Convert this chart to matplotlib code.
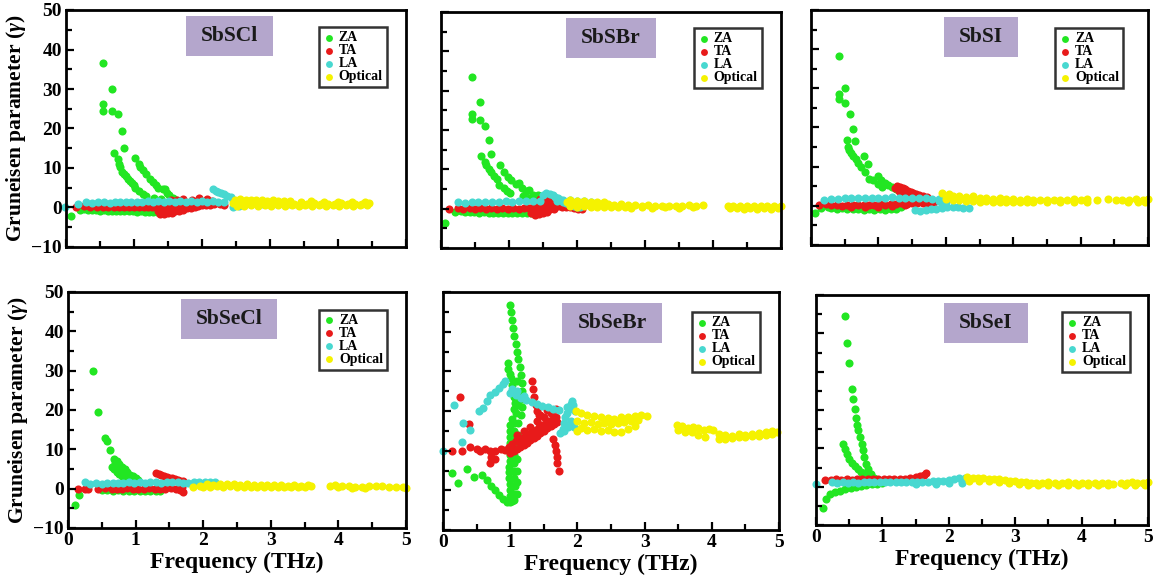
import matplotlib
matplotlib.use('Agg')
import matplotlib.pyplot as plt
import numpy as np
from matplotlib.ticker import MultipleLocator
from matplotlib.patches import Rectangle

plt.rcParams['font.family'] = 'Liberation Serif'
plt.rcParams['font.weight'] = 'bold'
plt.rcParams['axes.labelweight'] = 'bold'
plt.rcParams['mathtext.fontset'] = 'custom'
plt.rcParams['mathtext.it'] = 'Liberation Serif:italic:bold'
plt.rcParams['mathtext.rm'] = 'Liberation Serif:bold'

# (frequency THz, gruneisen parameter)
# ---- SbSCl
scl_za = np.array([
    [0.07, -2.1], [0.2, -0.6], [0.27, -0.3],
    [0.54, 36.7], [0.54, 26.2], [0.54, 24.5], [0.67, 30.0], [0.67, 24.5], [0.76, 23.6], [0.82, 19.4], [0.86, 15.0],
    [0.71, 13.7], [0.76, 12.2], [0.78, 11.0], [0.80, 10.2], [0.82, 9.1], [0.85, 8.6], [0.88, 8.0], [0.91, 7.2],
    [0.94, 6.8], [0.97, 6.2], [1.0, 5.6], [1.02, 4.9], [1.07, 4.3], [1.13, 3.4], [1.18, 2.9],
    [1.01, 12.6], [1.07, 10.9], [1.09, 10.2], [1.13, 9.5], [1.18, 8.6], [1.24, 7.2], [1.28, 6.5], [1.32, 5.6],
    [1.36, 4.9], [1.42, 4.6], [1.46, 4.8], [1.48, 3.7], [1.52, 3.2], [1.58, 2.4], [1.62, 1.9], [1.3, 2.5], [1.4, 2.2],
    [0.32, -0.6], [0.38, -0.7], [0.44, -0.6], [0.5, -0.8], [0.56, -0.7], [0.62, -0.8], [0.68, -0.9], [0.74, -0.8],
    [0.8, -0.9], [0.86, -1.0], [0.92, -0.9], [0.98, -1.0], [1.04, -1.1], [1.1, -1.0], [1.16, -1.1], [1.22, -1.1],
    [1.28, -1.2], [1.34, -1.1], [1.4, -1.2], [1.46, -1.0]])
scl_ta = np.array([
    [0.15, 0.1], [0.27, 0.3], [0.35, 0.0], [0.45, 0.2], [0.55, 0.1], [0.62, 0.2], [0.7, 0.0], [0.78, 0.1],
    [0.85, 0.2], [0.92, 0.0], [1.0, 0.1], [1.07, 0.2], [1.14, 0.0], [1.2, 0.1], [1.27, 0.2], [1.33, 0.0],
    [1.38, -1.6], [1.44, -1.7], [1.5, -1.5], [1.56, -1.4],
    [1.36, -1.0], [1.42, -1.1], [1.48, -0.9], [1.54, -1.0], [1.6, -0.9], [1.66, -0.8], [1.72, -0.7],
    [1.36, -0.4], [1.42, -0.5], [1.48, -0.4], [1.54, -0.3], [1.6, -0.4], [1.66, -0.3], [1.72, -0.2], [1.78, -0.2],
    [1.84, -0.1], [1.9, 0.0],
    [1.4, 0.3], [1.46, 0.2], [1.52, 0.3], [1.58, 0.4], [1.64, 0.3], [1.7, 0.5], [1.76, 0.4], [1.82, 0.5],
    [1.88, 0.6], [1.94, 0.5], [2.0, 0.6], [2.06, 0.7], [2.12, 0.6],
    [1.55, 0.9], [1.62, 1.0], [1.7, 1.1], [1.78, 1.0], [1.86, 1.2], [1.94, 1.1], [2.02, 1.3], [2.1, 1.2],
    [2.18, 1.0], [2.26, 0.8], [2.33, 0.6],
    [1.55, 2.0], [1.63, 1.8], [1.72, 2.1], [1.86, 2.0], [1.95, 2.3], [2.08, 2.2], [2.15, 1.7]])
scl_la = np.array([
    [-0.02, 0.0], [0.18, 1.0], [0.3, 1.3], [0.38, 1.1], [0.47, 1.3], [0.56, 1.4], [0.64, 1.2], [0.72, 1.4],
    [0.8, 1.3], [0.88, 1.5], [0.96, 1.4], [1.04, 1.5], [1.12, 1.4], [1.2, 1.6], [1.28, 1.5], [1.36, 1.6],
    [1.44, 1.5], [1.52, 1.6], [1.6, 1.5], [1.68, 1.6], [1.76, 1.5], [1.84, 1.6], [1.92, 1.5], [2.0, 1.6],
    [2.08, 1.5], [2.16, 1.6], [2.24, 1.5], [2.32, 1.4],
    [2.16, 4.6], [2.2, 4.2], [2.24, 3.9], [2.28, 3.6], [2.32, 3.3], [2.37, 3.0], [2.42, 2.6], [2.46, 2.0],
    [2.48, 1.3], [2.5, 0.7], [2.46, 0.2], [2.55, 0.4], [2.7, 0.9], [2.9, 1.0], [3.1, 0.8], [3.3, 0.9]])
scl_opt = np.array([
    [2.48, 2.0], [2.56, 2.1], [2.64, 1.9], [2.72, 2.0], [2.8, 1.8], [2.88, 1.9], [2.96, 1.7], [3.04, 1.8],
    [3.12, 1.6], [3.2, 1.7], [3.3, 1.6], [3.45, 1.5], [3.6, 1.6], [3.8, 1.5], [4.0, 1.4], [4.2, 1.5], [4.4, 1.4],
    [2.45, 1.2], [2.55, 1.3], [2.65, 1.2], [2.75, 1.3], [2.85, 1.1], [2.95, 1.2], [3.05, 1.1], [3.15, 1.2],
    [3.25, 1.1], [3.35, 1.0], [3.45, 1.1], [3.55, 1.0], [3.65, 1.1], [3.75, 1.0], [3.85, 0.9], [3.95, 1.0],
    [4.05, 1.1], [4.15, 1.0], [4.25, 0.9], [4.35, 1.0], [4.45, 1.1],
    [2.52, 0.5], [2.62, 0.4], [2.72, 0.6], [2.82, 0.5], [2.92, 0.6], [3.02, 0.5], [3.12, 0.6], [3.22, 0.5],
    [3.32, 0.6], [3.42, 0.5], [3.52, 0.6], [3.62, 0.5], [3.72, 0.6], [3.82, 0.5], [3.92, 0.6], [4.02, 0.5],
    [4.12, 0.6], [4.22, 0.5], [4.32, 0.6], [4.42, 0.7]])

# ---- SbSBr
sbr_za = np.array([
    [0.06, -3.6], [0.2, -0.8], [0.3, -0.5],
    [0.45, 33.4], [0.57, 27.0], [0.45, 24.0], [0.45, 22.8], [0.57, 22.5], [0.65, 21.0], [0.71, 17.4], [0.73, 13.9],
    [0.59, 13.3], [0.64, 11.8], [0.66, 11.0], [0.7, 10.0], [0.74, 9.2], [0.78, 8.4], [0.82, 7.6], [0.86, 5.9],
    [0.92, 5.2], [0.97, 4.4], [1.02, 4.0],
    [0.87, 11.0], [0.93, 9.3], [0.98, 8.0], [1.03, 7.2], [1.1, 6.3], [1.14, 6.6], [1.19, 5.3], [1.25, 4.4],
    [1.3, 4.7], [1.36, 3.6], [1.42, 3.4], [1.47, 2.8], [1.52, 2.3], [1.2, 3.2], [1.3, 2.6],
    [0.35, -0.8], [0.42, -0.9], [0.49, -0.8], [0.56, -1.0], [0.63, -0.9], [0.7, -1.0], [0.77, -1.1], [0.84, -1.0],
    [0.91, -1.1], [0.98, -1.0], [1.05, -1.1], [1.12, -1.2], [1.19, -1.1], [1.26, -1.2], [1.32, -1.1]])
sbr_ta = np.array([
    [0.12, 0.0], [0.25, 0.2], [0.32, -0.1], [0.42, 0.1], [0.5, 0.0], [0.58, 0.2], [0.66, 0.0], [0.74, 0.1],
    [0.82, 0.0], [0.9, 0.2], [0.98, 0.0], [1.06, 0.1], [1.14, 0.0], [1.22, 0.2], [1.3, 0.1],
    [1.32, -1.2], [1.38, -1.5], [1.44, -1.3], [1.5, -1.1], [1.56, -0.9], [1.36, -0.5], [1.42, -0.6], [1.48, -0.4],
    [1.54, -0.3], [1.6, -0.2], [1.66, -0.1], [1.36, 0.4], [1.42, 0.3], [1.48, 0.5], [1.54, 0.6], [1.6, 0.5],
    [1.66, 0.7], [1.72, 0.6], [1.78, 0.5], [1.84, 0.4], [1.9, 0.3], [1.96, 0.2], [2.02, 0.0], [2.08, -0.2],
    [1.4, 1.5], [1.45, 2.4], [1.5, 2.8], [1.55, 2.5], [1.6, 2.0], [1.65, 1.6], [1.7, 1.2], [1.75, 1.0]])
sbr_la = np.array([
    [0.25, 1.6], [0.35, 1.5], [0.45, 1.7], [0.55, 1.6], [0.65, 1.8], [0.75, 1.7], [0.85, 1.8], [0.95, 1.9],
    [1.05, 1.8], [1.15, 1.9], [1.25, 2.0], [1.35, 1.9], [1.45, 2.0],
    [1.5, 3.5], [1.55, 4.0], [1.6, 3.8], [1.64, 3.5], [1.68, 3.0], [1.72, 2.6], [1.76, 2.2], [1.8, 1.8],
    [1.84, 1.5], [1.88, 1.2], [1.92, 0.9], [1.96, 0.6], [2.0, 0.4], [2.04, 0.3],
    [1.7, 2.0], [1.8, 2.3], [1.9, 2.2], [2.0, 2.0], [2.1, 1.9], [2.2, 1.7]])
sbr_opt = np.array([
    [1.85, 1.6], [1.95, 1.3], [2.05, 1.4], [2.15, 1.2], [2.25, 1.3], [2.35, 1.1], [2.45, 1.2], [2.55, 1.0],
    [2.65, 1.1], [2.75, 0.9], [2.85, 1.0], [2.95, 0.8], [3.05, 0.9], [3.15, 0.8], [3.25, 0.7], [3.35, 0.8],
    [3.45, 0.7], [3.55, 0.8], [3.65, 0.9], [3.75, 0.8], [3.85, 0.9],
    [1.9, 0.6], [2.0, 0.5], [2.1, 0.6], [2.2, 0.4], [2.3, 0.5], [2.4, 0.4], [2.5, 0.3], [2.6, 0.4], [2.7, 0.3],
    [2.8, 0.2], [2.95, 0.3], [3.1, 0.2], [3.3, 0.3], [3.5, 0.2], [3.7, 0.3],
    [1.9, 2.2], [2.0, 2.0], [2.1, 1.9], [2.2, 1.8], [2.3, 1.7], [2.4, 1.6],
    [4.22, 0.8], [4.3, 0.7], [4.4, 0.8], [4.5, 0.7], [4.6, 0.6], [4.7, 0.7], [4.8, 0.6], [4.9, 0.7], [5.0, 0.6],
    [4.25, 0.1], [4.35, 0.2], [4.45, 0.0], [4.55, 0.1], [4.65, 0.0], [4.75, 0.1], [4.85, 0.0], [4.95, 0.1]])

# ---- SbSI
ssi_za = np.array([
    [0.06, -1.9], [0.15, -0.5], [0.25, -0.3],
    [0.42, 38.3], [0.5, 30.2], [0.41, 28.5], [0.41, 27.4], [0.51, 26.2], [0.58, 23.5], [0.63, 19.6], [0.53, 16.7],
    [0.66, 16.6], [0.55, 15.0], [0.57, 14.2], [0.6, 13.4], [0.63, 12.8], [0.67, 12.0], [0.7, 11.0], [0.74, 9.8],
    [0.79, 12.6], [0.84, 10.6], [0.8, 8.6], [0.86, 6.9], [0.92, 6.5], [0.99, 7.5], [1.04, 6.5], [1.1, 5.8],
    [1.14, 5.4], [1.2, 4.8], [1.26, 4.2], [1.34, 3.5], [1.38, 2.6], [1.0, 5.6], [1.06, 4.8],
    [0.3, -0.5], [0.38, -0.7], [0.46, -0.6], [0.54, -0.8], [0.62, -0.9], [0.7, -0.8], [0.78, -1.0], [0.86, -0.9],
    [0.94, -1.0], [1.02, -0.9], [1.1, -1.0], [1.18, -0.8], [1.26, -0.7], [1.34, -0.4]])
ssi_ta = np.array([
    [0.12, 0.3], [0.22, 0.4], [0.3, 0.1], [0.38, 0.2], [0.46, 0.0], [0.54, 0.2], [0.62, 0.1], [0.7, 0.3],
    [0.78, 0.1], [0.86, 0.3], [0.94, 0.2], [1.02, 0.4], [1.1, 0.3], [1.18, 0.5], [1.26, 0.4], [1.34, 0.6],
    [1.42, 0.5], [1.5, 0.7], [1.58, 0.6], [1.66, 0.8], [1.74, 0.7], [1.82, 0.9],
    [0.6, -0.3], [0.8, -0.3], [1.0, -0.2], [1.2, 0.0], [1.4, 0.2],
    [1.24, 4.6], [1.28, 5.0], [1.32, 4.8], [1.36, 4.5], [1.4, 4.2], [1.44, 3.8], [1.48, 3.5], [1.52, 3.4],
    [1.56, 3.0], [1.6, 2.8], [1.66, 2.6], [1.72, 2.3], [1.3, 3.9], [1.4, 3.4], [1.5, 2.7]])
ssi_la = np.array([
    [0.2, 1.5], [0.3, 1.8], [0.4, 1.7], [0.5, 1.9], [0.6, 2.0], [0.7, 1.9], [0.8, 2.1], [0.9, 2.0], [1.0, 2.1],
    [1.1, 2.0], [1.2, 2.2], [1.3, 2.1], [1.4, 2.0], [1.5, 2.1], [1.6, 1.9], [1.7, 2.0], [1.8, 1.8], [1.9, 1.7],
    [2.0, 1.5],
    [1.55, -1.1], [1.62, -1.2], [1.7, -1.0], [1.78, -0.9], [1.86, -0.8], [1.94, -0.5], [2.02, -0.3], [2.1, -0.2],
    [2.18, -0.3], [2.26, -0.5], [2.34, -0.6], [1.95, 0.5], [2.0, 1.0], [1.9, 1.2]])
ssi_opt = np.array([
    [1.95, 3.2], [2.05, 3.0], [2.1, 2.4], [2.2, 2.6], [2.3, 2.2], [2.4, 2.4], [2.5, 2.0], [2.6, 2.1], [2.7, 1.8],
    [2.8, 2.0], [2.9, 1.7], [3.0, 1.8], [3.1, 1.6], [3.2, 1.7], [3.3, 1.5], [3.4, 1.6], [3.5, 1.5], [3.6, 1.6],
    [3.7, 1.5], [3.8, 1.6], [3.9, 1.7], [4.0, 1.6], [4.1, 1.7], [4.25, 1.6], [4.4, 1.7], [4.52, 1.6],
    [4.62, 1.5], [4.72, 1.6], [4.82, 1.7], [4.92, 1.6], [5.0, 1.7],
    [2.0, 1.8], [2.1, 1.5], [2.2, 1.4], [2.3, 1.2], [2.4, 1.3], [2.5, 1.1], [2.6, 1.2], [2.7, 1.0], [2.8, 1.1],
    [2.9, 1.0], [3.0, 0.9], [3.1, 1.0], [3.2, 0.9], [3.3, 1.0], [3.5, 0.9], [3.7, 1.0], [3.9, 1.1], [4.1, 1.0],
    [4.7, 1.0], [4.85, 1.1], [4.95, 1.0]])

# ---- SbSeCl
secl_za = np.array([
    [0.1, -4.2], [0.17, -1.5], [0.37, 30.0], [0.45, 19.5], [0.55, 13.0], [0.57, 12.2], [0.62, 9.8], [0.68, 7.6],
    [0.72, 7.0], [0.76, 6.3], [0.8, 5.6], [0.84, 4.9], [0.88, 4.2], [0.92, 3.6], [0.96, 3.1], [1.0, 2.6],
    [1.04, 2.2], [0.65, 5.6], [0.68, 5.0], [0.72, 4.3], [0.76, 3.7], [0.8, 3.1], [0.84, 2.6], [0.88, 2.2],
    [0.92, 1.8], [0.7, 6.5], [0.74, 5.8], [0.78, 5.0], [0.82, 4.2],
    [0.5, -0.3], [0.58, -0.4], [0.66, -0.5], [0.74, -0.4], [0.82, -0.6], [0.9, -0.5], [0.98, -0.7], [1.06, -0.6],
    [1.14, -0.7], [1.22, -0.6], [1.3, -0.7], [1.36, -0.5]])
secl_ta = np.array([
    [0.15, -0.1], [0.25, 0.0], [0.3, -0.1], [0.45, 0.0], [0.55, 0.1], [0.65, 0.0], [0.72, -0.1], [0.8, 0.0],
    [0.88, 0.1], [0.96, 0.0], [1.04, -0.1], [1.12, 0.0], [1.2, 0.1], [1.28, 0.0], [1.36, -0.1], [1.44, 0.0],
    [1.52, 0.1], [1.6, 0.0], [1.66, -0.4], [1.7, -0.9], [1.68, 0.3],
    [1.3, 4.0], [1.34, 3.7], [1.38, 3.4], [1.42, 3.2], [1.46, 3.0], [1.5, 2.8], [1.54, 2.6], [1.58, 2.4],
    [1.62, 2.2], [1.66, 2.0], [1.7, 1.9]])
secl_la = np.array([
    [0.25, 1.8], [0.33, 1.2], [0.42, 1.4], [0.5, 1.3], [0.58, 1.5], [0.66, 1.4], [0.74, 1.5], [0.82, 1.4],
    [0.9, 1.6], [0.98, 1.5], [1.06, 1.6], [1.14, 1.5], [1.22, 1.7], [1.3, 1.6], [1.38, 1.5], [1.46, 1.6],
    [1.54, 1.7], [1.62, 1.6], [1.7, 1.5], [1.78, 1.4], [1.86, 1.6], [1.94, 1.7], [2.02, 1.8], [2.1, 1.7],
    [2.18, 1.8]])
secl_opt = np.array([
    [1.85, 0.5], [1.95, 0.8], [2.05, 1.2], [2.15, 1.0], [2.25, 1.3], [2.35, 1.1], [2.45, 1.2], [2.55, 1.0],
    [2.65, 1.1], [2.75, 0.9], [2.85, 1.0], [2.95, 0.9], [3.05, 1.0], [3.15, 0.9], [3.25, 0.8], [3.35, 0.9],
    [3.45, 0.8], [3.55, 0.9],
    [2.0, 0.5], [2.1, 0.4], [2.2, 0.6], [2.3, 0.5], [2.4, 0.6], [2.5, 0.5], [2.6, 0.4], [2.7, 0.5], [2.8, 0.4],
    [2.9, 0.5], [3.0, 0.4], [3.1, 0.5], [3.2, 0.4], [3.3, 0.5], [3.4, 0.4], [3.5, 0.5], [3.6, 0.6],
    [3.87, 0.8], [3.95, 0.9], [4.05, 0.7], [4.15, 0.6], [4.25, 0.5], [4.35, 0.4], [4.45, 0.6], [4.55, 0.7],
    [4.65, 0.6], [4.75, 0.5], [4.85, 0.4], [4.95, 0.3], [5.0, 0.2], [4.0, 0.3], [4.2, 0.2], [4.4, 0.1]])

# ---- SbSeBr
sebr_za = np.array([
    [1.0, 46.8], [1.01, 45.0], [1.02, 43.0], [1.04, 41.0], [1.06, 39.0], [1.08, 37.0], [1.1, 35.0], [1.12, 33.0],
    [1.14, 31.0], [1.16, 29.0], [1.17, 27.0], [1.18, 25.0], [1.18, 23.0], [1.17, 21.0], [1.16, 19.0],
    [0.96, 32.0], [0.97, 30.5], [0.99, 29.3], [1.01, 28.2], [1.02, 26.5], [1.04, 25.0], [1.06, 23.5], [1.07, 22.0],
    [1.05, 20.5], [1.08, 19.5], [1.1, 27.5], [1.1, 24.5], [1.12, 21.5], [1.03, 18.0],
    [1.0, 16.5], [1.0, 15.0], [1.0, 13.5], [1.0, 12.0], [0.99, 10.5], [0.99, 9.0], [0.99, 7.5], [0.98, 6.0],
    [0.98, 4.5], [0.98, 3.0], [0.99, 1.5], [1.0, 0.0], [1.0, -1.5], [1.0, -3.0], [1.02, -2.8],
    [1.06, 17.0], [1.06, 15.0], [1.05, 13.0], [1.05, 11.0], [1.05, 9.0], [1.05, 7.0], [1.06, 5.0], [1.06, 3.0],
    [1.07, 1.0], [1.06, -1.0], [1.05, -2.5],
    [1.12, 17.0], [1.11, 14.0], [1.1, 11.0], [1.1, 8.0], [1.1, 5.0], [1.1, 2.0], [1.1, -1.0],
    [0.13, 4.3], [0.23, 1.8], [0.36, 5.3], [0.46, 3.4], [0.58, 3.8], [0.66, 2.5], [0.72, 1.2], [0.78, 0.0],
    [0.84, -1.2], [0.9, -2.2], [0.95, -3.0]])
sebr_ta = np.array([
    [0.13, 10.0], [0.26, 23.5], [0.38, 16.8], [0.28, 10.0], [0.4, 11.0], [0.5, 10.5], [0.55, 9.8], [0.62, 10.3],
    [0.7, 9.8], [0.78, 10.0], [0.86, 10.4], [0.93, 10.2], [0.7, 7.0], [0.72, 8.3], [0.78, 8.0],
    [0.98, 11.0], [1.03, 11.8], [1.08, 12.4], [1.13, 12.8], [1.18, 13.3], [1.23, 13.8], [1.28, 14.2], [1.33, 14.8],
    [1.38, 15.3], [1.43, 15.9], [1.48, 16.4], [1.53, 17.0], [1.58, 17.5], [1.63, 18.0], [1.68, 18.5],
    [1.0, 9.5], [1.05, 10.0], [1.1, 10.5], [1.15, 11.0], [1.2, 11.5], [1.25, 12.0], [1.3, 12.6], [1.35, 13.2],
    [1.4, 13.8], [1.45, 14.4], [1.5, 15.0], [1.55, 15.6], [1.6, 16.2], [1.65, 16.6], [1.7, 17.2],
    [1.1, 14.0], [1.2, 15.0], [1.3, 16.0], [1.4, 17.5], [1.5, 18.5], [1.6, 19.5], [1.68, 20.5], [1.45, 19.0],
    [1.55, 20.2],
    [1.32, 27.5], [1.34, 25.5], [1.36, 23.5], [1.38, 21.5], [1.4, 20.0], [1.43, 19.0],
    [1.64, 13.0], [1.66, 11.5], [1.68, 10.0], [1.69, 8.5], [1.7, 7.0], [1.72, 5.0]])
sebr_la = np.array([
    [0.0, 10.0], [0.16, 21.6], [0.28, 12.3], [0.3, 17.0], [0.4, 15.3], [0.53, 20.0], [0.6, 20.8], [0.66, 22.5],
    [0.7, 24.0], [0.77, 24.8], [0.83, 25.8], [0.9, 26.8], [0.93, 27.5],
    [1.0, 24.6], [1.08, 24.0], [1.16, 23.3], [1.24, 22.8], [1.32, 22.3], [1.4, 21.8], [1.48, 21.3], [1.56, 21.0],
    [1.64, 20.5], [1.72, 20.2], [1.02, 25.6], [1.1, 25.0], [1.2, 23.8],
    [1.74, 14.4], [1.78, 15.5], [1.8, 17.0], [1.82, 18.5], [1.85, 19.5], [1.88, 20.5], [1.92, 22.5], [1.94, 21.5],
    [1.96, 20.0], [1.8, 15.0], [1.86, 16.0], [1.9, 17.5], [1.95, 16.0], [1.84, 21.0], [1.9, 21.8]])
sebr_opt = np.array([
    [1.98, 20.0], [2.05, 19.5], [2.15, 19.0], [2.25, 18.8], [2.35, 18.5], [2.45, 18.3], [2.55, 18.0], [2.65, 18.4],
    [2.75, 18.6], [2.85, 18.8], [2.95, 19.0], [3.03, 18.7],
    [2.0, 17.5], [2.1, 17.0], [2.2, 17.3], [2.3, 16.8], [2.4, 17.0], [2.5, 16.6], [2.6, 16.9], [2.7, 17.2],
    [2.8, 17.5], [2.9, 17.8],
    [2.05, 15.8], [2.15, 15.2], [2.25, 15.5], [2.35, 15.0], [2.45, 15.3], [2.55, 14.8], [2.65, 14.6], [2.75, 15.5],
    [2.85, 16.2], [2.0, 15.0],
    [3.48, 16.5], [3.56, 16.2], [3.64, 15.8], [3.72, 15.9], [3.8, 15.6], [3.88, 15.3], [3.96, 15.5], [4.02, 15.2],
    [3.5, 15.2], [3.6, 14.8], [3.7, 14.6], [3.8, 14.0], [3.9, 13.5],
    [4.1, 13.0], [4.1, 14.2], [4.2, 14.0], [4.2, 13.0], [4.3, 13.8], [4.3, 13.2], [4.4, 14.2], [4.5, 14.0],
    [4.4, 13.4], [4.5, 13.5], [4.6, 14.3], [4.6, 13.6], [4.7, 14.5], [4.7, 13.8], [4.8, 14.7], [4.8, 14.0],
    [4.9, 15.0], [4.9, 14.2], [4.97, 14.8]])

# ---- SbSeI
sei_za = np.array([
    [0.43, 44.4], [0.46, 37.5], [0.49, 32.3], [0.54, 25.6], [0.56, 22.8], [0.59, 20.2], [0.6, 17.8], [0.62, 16.2],
    [0.64, 14.7], [0.66, 12.9], [0.69, 11.2], [0.71, 9.5], [0.73, 7.7], [0.76, 6.0], [0.79, 4.5], [0.83, 3.2],
    [0.88, 2.2],
    [0.41, 11.2], [0.43, 9.8], [0.46, 8.4], [0.5, 7.2], [0.54, 6.2], [0.58, 5.3], [0.63, 4.5], [0.68, 3.8],
    [0.73, 3.2], [0.78, 2.6], [0.84, 2.0],
    [0.11, -5.6], [0.15, -3.3], [0.21, -1.9], [0.28, -1.4], [0.36, -1.0], [0.44, -0.7], [0.52, -0.4], [0.6, -0.1],
    [0.68, 0.2], [0.76, 0.4], [0.84, 0.6], [0.92, 0.8], [1.0, 1.0]])
sei_ta = np.array([
    [0.14, 1.8], [0.22, 1.8], [0.3, 1.9], [0.38, 1.8], [0.46, 1.9], [0.54, 1.8], [0.62, 1.9], [0.7, 1.9],
    [0.78, 2.0], [0.86, 1.9], [0.94, 2.0], [1.02, 2.0], [1.1, 2.1], [1.18, 2.0], [1.26, 2.1], [1.34, 2.1],
    [1.42, 2.2], [1.5, 2.4], [1.56, 2.7], [1.62, 3.1], [1.66, 3.5]])
sei_la = np.array([
    [0.0, 0.6], [0.24, 1.2], [0.32, 1.0], [0.4, 1.1], [0.48, 1.0], [0.56, 1.1], [0.64, 1.0], [0.72, 1.1],
    [0.8, 1.2], [0.88, 1.1], [0.96, 1.2], [1.04, 1.1], [1.12, 1.2], [1.2, 1.1], [1.28, 1.2], [1.36, 1.1],
    [1.44, 1.2], [1.52, 1.3], [1.6, 1.2], [1.68, 1.3], [1.76, 1.4], [1.84, 1.5], [1.92, 1.6], [2.0, 1.8],
    [2.08, 2.0], [2.16, 2.2], [2.24, 2.3], [1.5, 0.6], [1.8, 0.8], [2.0, 0.9], [2.2, 1.0]])
sei_opt = np.array([
    [2.28, 2.4], [2.36, 2.3], [2.44, 2.2], [2.52, 2.3], [2.6, 2.1], [2.68, 2.0], [2.76, 1.9], [2.84, 1.8],
    [2.92, 1.6], [3.0, 1.4], [3.08, 1.2], [3.16, 1.1], [3.24, 1.0], [3.32, 0.9], [3.4, 1.0], [3.5, 1.1],
    [3.6, 1.0], [3.7, 1.0], [3.8, 1.1], [3.9, 1.0], [4.0, 1.0], [4.1, 0.9], [4.2, 0.9], [4.3, 1.0], [4.4, 0.9],
    [4.48, 0.8], [4.6, 1.0], [4.68, 1.0], [4.76, 1.1], [4.84, 1.0], [4.92, 1.0], [5.0, 1.1],
    [2.3, 1.6], [2.45, 1.5], [2.6, 1.4], [2.75, 1.2], [2.9, 0.9], [3.05, 0.7], [3.2, 0.5], [3.35, 0.4],
    [3.5, 0.5], [3.65, 0.4], [3.8, 0.5], [3.95, 0.4], [4.1, 0.5], [4.25, 0.4], [4.4, 0.5], [4.65, 0.5],
    [4.8, 0.4], [4.95, 0.5]])

names = ['SbSCl', 'SbSBr', 'SbSI', 'SbSeCl', 'SbSeBr', 'SbSeI']
series_labels = ['ZA', 'TA', 'LA', 'Optical']
colors = ['#22e622', '#e81a1a', '#48d8d0', '#f5f200']
data = [(scl_za, scl_ta, scl_la, scl_opt),
        (sbr_za, sbr_ta, sbr_la, sbr_opt),
        (ssi_za, ssi_ta, ssi_la, ssi_opt),
        (secl_za, secl_ta, secl_la, secl_opt),
        (sebr_za, sebr_ta, sebr_la, sebr_opt),
        (sei_za, sei_ta, sei_la, sei_opt)]

W, H = 1157, 583
# axes boxes in pixels: left, right, top, bottom
boxes = [(66, 406, 10, 247), (441, 781, 12, 248), (811, 1148, 10, 245),
         (68, 406, 292, 528), (443, 779, 292, 530), (816, 1148, 295, 525)]
title_pos = [(0.48, 0.89), (0.50, 0.89), (0.505, 0.885), (0.476, 0.886), (0.503, 0.87), (0.512, 0.88)]
leg_pos = [(0.944, 0.928), (0.944, 0.932), (0.926, 0.923), (0.944, 0.924), (0.943, 0.916), (0.946, 0.926)]

fig = plt.figure(figsize=(W / 100, H / 100), dpi=100)

titles = []
for i, name in enumerate(names):
    l, r, t, b = boxes[i]
    ax = fig.add_axes([l / W, 1 - b / H, (r - l) / W, (b - t) / H])
    for arr, lab, c in zip(data[i], series_labels, colors):
        ax.scatter(arr[:, 0], arr[:, 1], s=34, c=c, linewidths=0, label=lab, clip_on=False)
    ax.set_xlim(0, 5)
    ax.set_ylim(-10, 50)
    ax.xaxis.set_major_locator(MultipleLocator(1))
    ax.xaxis.set_minor_locator(MultipleLocator(0.5))
    ax.yaxis.set_major_locator(MultipleLocator(10))
    ax.yaxis.set_minor_locator(MultipleLocator(5))
    ax.tick_params(which='both', direction='in', top=False, right=False, width=1.6, labelsize=14, pad=3)
    ax.tick_params(which='major', length=6)
    ax.tick_params(which='minor', length=4)
    for sp in ax.spines.values():
        sp.set_linewidth(2)
    if i % 3 != 0:
        ax.set_yticklabels([])
    else:
        ax.set_ylabel(r'Gruneisen parameter ($\gamma$)', fontsize=15.5, fontweight='bold', labelpad=2)
    if i < 3:
        ax.set_xticklabels([])
    else:
        ax.set_xlabel('Frequency (THz)', fontsize=17, fontweight='bold', labelpad=2)
    for lbl in ax.get_xticklabels() + ax.get_yticklabels():
        lbl.set_fontweight('bold')
    tt = ax.text(title_pos[i][0], title_pos[i][1], name, transform=ax.transAxes, ha='center', va='center',
                 fontsize=15.5, fontweight='bold', color='#1a1a1a', zorder=6)
    titles.append(tt)
    leg = ax.legend(loc='upper right', bbox_to_anchor=leg_pos[i], fontsize=10, frameon=True, fancybox=False,
                    edgecolor='black', borderpad=0.3, labelspacing=0.0, handletextpad=0.3,
                    handlelength=0.8, scatterpoints=1, markerscale=0.85, borderaxespad=0)
    leg.get_frame().set_linewidth(1.8)

# purple boxes behind the compound names: fixed height, text width plus side padding
fig.canvas.draw()
for tt in titles:
    bb = tt.get_window_extent()
    cx, cy = (bb.x0 + bb.x1) / 2, (bb.y0 + bb.y1) / 2
    bw, bh = bb.width + 30, 40
    rect = Rectangle((cx - bw / 2, cy - bh / 2), bw, bh, transform=None, facecolor='#b4a6cc',
                     edgecolor='none', zorder=5)
    tt.axes.add_artist(rect)

fig.savefig('out.png', dpi=100)
